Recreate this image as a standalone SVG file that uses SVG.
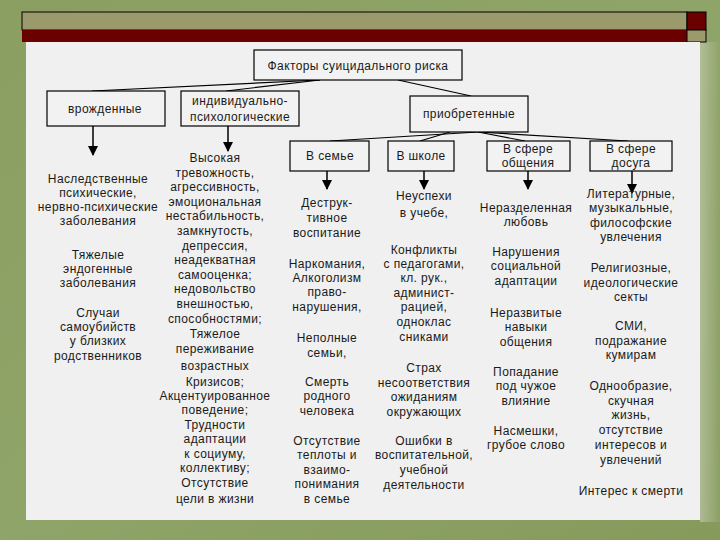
<svg xmlns="http://www.w3.org/2000/svg" width="720" height="540" viewBox="0 0 720 540">
<defs>
<linearGradient id="bg" x1="0" y1="0" x2="1" y2="1">
<stop offset="0" stop-color="#8c9f63"/>
<stop offset="0.5" stop-color="#8fa468"/>
<stop offset="1" stop-color="#869a5c"/>
</linearGradient>
<linearGradient id="rt" x1="0" y1="0" x2="1" y2="0">
<stop offset="0" stop-color="#c8cfb8"/>
<stop offset="1" stop-color="#8fa468"/>
</linearGradient>
<marker id="ah" viewBox="0 0 10 10" refX="9" refY="5" markerWidth="10" markerHeight="10" markerUnits="userSpaceOnUse" orient="auto">
<path d="M0,0 L10,5 L0,10 z" fill="#000"/>
</marker>
<style>
text{font-family:"Liberation Sans",Arial,sans-serif;font-size:12px;fill:#1a1a1a;text-anchor:middle;letter-spacing:0.4px}
.box{fill:#f2f2f2;stroke:#000;stroke-width:1.2}
.ln{stroke:#000;stroke-width:1.2;fill:none}
.ar{stroke:#000;stroke-width:1.5;fill:none;marker-end:url(#ah)}
</style>
</defs>
<rect x="0" y="0" width="720" height="540" fill="url(#bg)"/>
<rect x="700" y="42" width="20" height="480" fill="url(#rt)" opacity="0.6"/>
<!-- top bar -->
<rect x="22" y="12" width="665" height="18" fill="#9b9a6c" stroke="#000" stroke-width="1"/>
<rect x="22" y="30" width="665" height="12" fill="#6b0000"/>
<rect x="687" y="12" width="19" height="18" fill="#6b0000" stroke="#000" stroke-width="1"/>
<rect x="687" y="30" width="19" height="12" fill="#9b9a6c" stroke="#000" stroke-width="1"/>
<!-- panel -->
<rect x="26" y="42" width="674" height="478" fill="#f0f0f0"/>

<g id="connectors">
<line class="ln" x1="320" y1="80" x2="92" y2="91"/>
<line class="ln" x1="320" y1="80" x2="226" y2="91"/>
<line class="ln" x1="398" y1="80" x2="471" y2="96"/>
<line class="ln" x1="478" y1="132" x2="330" y2="141"/>
<line class="ln" x1="450" y1="132" x2="420" y2="141"/>
<line class="ln" x1="478" y1="132" x2="525" y2="141"/>
<line class="ln" x1="478" y1="132" x2="628" y2="141"/>
<line class="ar" x1="93" y1="126" x2="93" y2="155"/>
<line class="ar" x1="228" y1="126" x2="228" y2="151"/>
<line class="ar" x1="327" y1="171" x2="327" y2="189"/>
<line class="ar" x1="424" y1="171" x2="424" y2="189"/>
<line class="ar" x1="528" y1="171" x2="528" y2="189"/>
<line class="ar" x1="632" y1="171" x2="632" y2="193"/>
</g>

<g id="root"><rect class="box" x="254" y="50" width="208" height="30"/><text x="358" y="70">Факторы суицидального риска</text></g>
<g id="innate"><rect class="box" x="47" y="91" width="118" height="35"/><text x="105" y="113">врожденные</text></g>
<g id="individual"><rect class="box" x="181" y="91" width="118" height="35"/><text x="240" y="105">индивидуально-</text><text x="240" y="121">психологические</text></g>
<g id="acquired"><rect class="box" x="410" y="96" width="118" height="36"/><text x="469" y="118">приобретенные</text></g>
<g id="family"><rect class="box" x="290" y="141" width="79" height="30"/><text x="330" y="160">В семье</text></g>
<g id="school"><rect class="box" x="388" y="141" width="66" height="30"/><text x="421" y="160">В школе</text></g>
<g id="communication"><rect class="box" x="487" y="141" width="83" height="30"/><text x="528" y="153">В сфере</text><text x="528" y="167">общения</text></g>
<g id="leisure"><rect class="box" x="590" y="141" width="82" height="30"/><text x="631" y="153">В сфере</text><text x="631" y="167">досуга</text></g>

<g id="col-innate">
<text x="98" y="183">Наследственные</text>
<text x="98" y="197">психические,</text>
<text x="98" y="211">нервно-психические</text>
<text x="98" y="225">заболевания</text>
<text x="98" y="259">Тяжелые</text>
<text x="98" y="273">эндогенные</text>
<text x="98" y="287">заболевания</text>
<text x="98" y="317">Случаи</text>
<text x="98" y="331">самоубийств</text>
<text x="98" y="345">у близких</text>
<text x="98" y="360">родственников</text>
</g>

<g id="col-individual">
<text x="215" y="162">Высокая</text>
<text x="215" y="177">тревожность,</text>
<text x="215" y="191">агрессивность,</text>
<text x="215" y="206">эмоциональная</text>
<text x="215" y="220">нестабильность,</text>
<text x="215" y="235">замкнутость,</text>
<text x="215" y="250">депрессия,</text>
<text x="215" y="264">неадекватная</text>
<text x="215" y="279">самооценка;</text>
<text x="215" y="293">недовольство</text>
<text x="215" y="308">внешностью,</text>
<text x="215" y="323">способностями;</text>
<text x="215" y="338">Тяжелое</text>
<text x="215" y="353">переживание</text>
<text x="215" y="370">возрастных</text>
<text x="215" y="386">Кризисов;</text>
<text x="215" y="400">Акцентуированное</text>
<text x="215" y="414">поведение;</text>
<text x="215" y="429">Трудности</text>
<text x="215" y="443">адаптации</text>
<text x="215" y="458">к социуму,</text>
<text x="215" y="472">коллективу;</text>
<text x="215" y="487">Отсутствие</text>
<text x="215" y="503">цели в жизни</text>
</g>

<g id="col-family">
<text x="327" y="207">Деструк-</text>
<text x="327" y="222">тивное</text>
<text x="327" y="237">воспитание</text>
<text x="327" y="268">Наркомания,</text>
<text x="327" y="282">Алкоголизм</text>
<text x="327" y="296">право-</text>
<text x="327" y="311">нарушения,</text>
<text x="327" y="342">Неполные</text>
<text x="327" y="357">семьи,</text>
<text x="327" y="386">Смерть</text>
<text x="327" y="400">родного</text>
<text x="327" y="415">человека</text>
<text x="327" y="445">Отсутствие</text>
<text x="327" y="459">теплоты и</text>
<text x="327" y="474">взаимо-</text>
<text x="327" y="488">понимания</text>
<text x="327" y="503">в семье</text>
</g>

<g id="col-school">
<text x="424" y="200">Неуспехи</text>
<text x="424" y="217">в учебе,</text>
<text x="424" y="254">Конфликты</text>
<text x="424" y="268">с педагогами,</text>
<text x="424" y="282">кл. рук.,</text>
<text x="424" y="297">админист-</text>
<text x="424" y="311">рацией,</text>
<text x="424" y="326">одноклас</text>
<text x="424" y="341">сниками</text>
<text x="424" y="372">Страх</text>
<text x="424" y="387">несоответствия</text>
<text x="424" y="401">ожиданиям</text>
<text x="424" y="416">окружающих</text>
<text x="424" y="445">Ошибки в</text>
<text x="424" y="459">воспитательной,</text>
<text x="424" y="474">учебной</text>
<text x="424" y="489">деятельности</text>
</g>

<g id="col-communication">
<text x="526" y="212">Неразделенная</text>
<text x="526" y="226">любовь</text>
<text x="526" y="256">Нарушения</text>
<text x="526" y="270">социальной</text>
<text x="526" y="285">адаптации</text>
<text x="526" y="317">Неразвитые</text>
<text x="526" y="331">навыки</text>
<text x="526" y="346">общения</text>
<text x="526" y="376">Попадание</text>
<text x="526" y="390">под чужое</text>
<text x="526" y="405">влияние</text>
<text x="526" y="435">Насмешки,</text>
<text x="526" y="449">грубое слово</text>
</g>

<g id="col-leisure">
<text x="631" y="198">Литературные,</text>
<text x="631" y="212">музыкальные,</text>
<text x="631" y="227">философские</text>
<text x="631" y="241">увлечения</text>
<text x="631" y="272">Религиозные,</text>
<text x="631" y="287">идеологические</text>
<text x="631" y="301">секты</text>
<text x="631" y="330">СМИ,</text>
<text x="631" y="345">подражание</text>
<text x="631" y="359">кумирам</text>
<text x="631" y="390">Однообразие,</text>
<text x="631" y="405">скучная</text>
<text x="631" y="419">жизнь,</text>
<text x="631" y="434">отсутствие</text>
<text x="631" y="449">интересов и</text>
<text x="631" y="464">увлечений</text>
<text x="631" y="495">Интерес к смерти</text>
</g>
</svg>
